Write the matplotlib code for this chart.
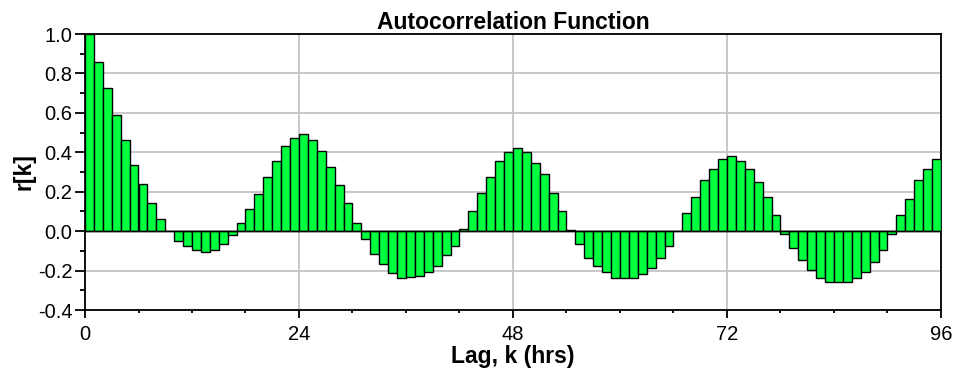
import numpy as np
import matplotlib.pyplot as plt

# wartosci funkcji autokorelacji (lag 0..95)
lag = np.arange(96)
r_k = [1.0, 0.856, 0.728, 0.587, 0.462, 0.337, 0.240, 0.144, 0.060, 0.0,
       -0.051, -0.074, -0.094, -0.104, -0.094, -0.065, -0.022, 0.043, 0.111, 0.187,
       0.277, 0.358, 0.431, 0.474, 0.493, 0.461, 0.408, 0.327, 0.236, 0.144,
       0.039, -0.041, -0.115, -0.168, -0.214, -0.236, -0.233, -0.226, -0.205, -0.176,
       -0.123, -0.074, 0.010, 0.103, 0.193, 0.276, 0.358, 0.399, 0.420, 0.399,
       0.348, 0.288, 0.193, 0.103, 0.007, -0.063, -0.137, -0.176, -0.205, -0.236,
       -0.236, -0.236, -0.217, -0.188, -0.134, -0.074, 0.0, 0.091, 0.173, 0.257,
       0.317, 0.368, 0.380, 0.356, 0.317, 0.247, 0.173, 0.080, -0.012, -0.086,
       -0.146, -0.197, -0.240, -0.260, -0.260, -0.260, -0.240, -0.205, -0.158, -0.094,
       -0.012, 0.080, 0.163, 0.257, 0.317, 0.368]

x_ticks = [0, 24, 48, 72, 96]
y_ticks = [-0.4, -0.2, 0.0, 0.2, 0.4, 0.6, 0.8, 1.0]

plt.rcParams['font.family'] = ['Liberation Sans', 'DejaVu Sans']

fig = plt.figure(figsize=(9.58, 3.68), dpi=100)
ax = fig.add_axes([85/958, 58/368, 856/958, 276/368])

ax.bar(lag, r_k, width=1.0, align='edge', color='#00FF3C', edgecolor='black', linewidth=1.0, zorder=3)
ax.axhline(0, color='black', linewidth=1.0, zorder=4)

ax.set_xlim(0, 96)
ax.set_ylim(-0.4, 1.0)
ax.set_xticks(x_ticks)
ax.set_xticks(np.arange(0, 97, 6), minor=True)
ax.set_yticks(y_ticks)
ax.set_yticks(np.arange(-0.4, 1.01, 0.1), minor=True)
ax.set_yticklabels([f"{v:.1f}" for v in y_ticks])

ax.grid(True, which='major', color='#C4C4C4', linewidth=1.3, zorder=0)
ax.set_axisbelow(True)

ax.tick_params(axis='both', which='both', direction='out', labelsize=14.5, width=1.3, colors='black')
ax.tick_params(axis='x', which='major', length=5.5, pad=5)
ax.tick_params(axis='x', which='minor', length=2.5)
ax.tick_params(axis='y', which='major', length=7, pad=2)
ax.tick_params(axis='y', which='minor', length=3.5)
for s in ax.spines.values():
    s.set_linewidth(1.3)

ax.set_title("Autocorrelation Function", fontsize=16.5, fontweight='bold', pad=3)
ax.set_xlabel("Lag, k (hrs)", fontsize=16.5, fontweight='bold', labelpad=1)
ax.set_ylabel("r[k]", fontsize=16.5, fontweight='bold', labelpad=2)

plt.savefig("out.png", dpi=100)
